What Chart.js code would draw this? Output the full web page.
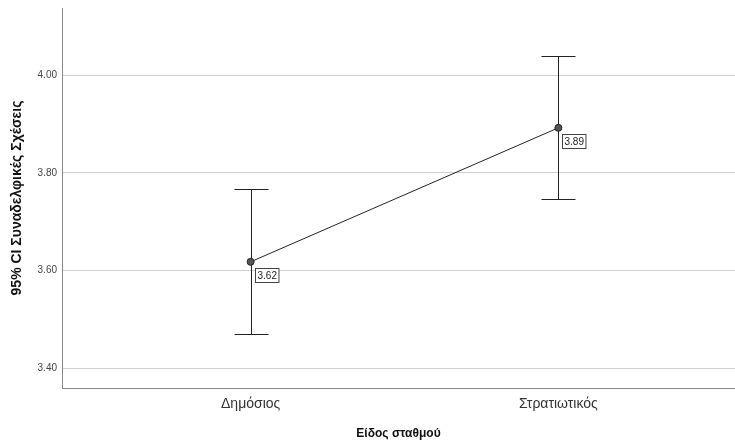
<!DOCTYPE html>
<html>
<head>
<meta charset="utf-8">
<script src="https://cdn.jsdelivr.net/npm/chart.js@4"></script>
<style>
  html, body { margin: 0; padding: 0; background: #fff; }
  #wrap { width: 735px; height: 441px; }
</style>
</head>
<body>
<div id="wrap"><canvas id="chartCI" width="735" height="441"></canvas></div>
<script>
const categories = ['Δημόσιος', 'Στρατιωτικός'];
const means = [3.618, 3.892];
const ciLower = [3.470, 3.746];
const ciUpper = [3.767, 4.039];
const yTicks = [3.40, 3.60, 3.80, 4.00];

const FONT = '"Liberation Sans", Arial, sans-serif';

// error bars + value boxes
const ciPlugin = {
  id: 'ciBars',
  beforeDatasetsDraw(chart) {
    const { ctx, scales: { x, y } } = chart;
    ctx.save();
    ctx.strokeStyle = '#222';
    ctx.lineWidth = 1;
    means.forEach((m, i) => {
      const px = Math.round(x.getPixelForValue(i)) + 0.5;
      const top = Math.round(y.getPixelForValue(ciUpper[i])) + 0.5;
      const bot = Math.round(y.getPixelForValue(ciLower[i])) + 0.5;
      ctx.beginPath();
      ctx.moveTo(px, top); ctx.lineTo(px, bot);
      ctx.moveTo(px - 17, top); ctx.lineTo(px + 17, top);
      ctx.moveTo(px - 17, bot); ctx.lineTo(px + 17, bot);
      ctx.stroke();
    });
    ctx.restore();
  },
  afterDatasetsDraw(chart) {
    const { ctx, scales: { x, y } } = chart;
    ctx.save();
    ctx.font = '10px ' + FONT;
    ctx.textBaseline = 'middle';
    ctx.textAlign = 'left';
    means.forEach((m, i) => {
      const px = x.getPixelForValue(i);
      const py = y.getPixelForValue(m);
      const txt = m.toFixed(2);
      const w = ctx.measureText(txt).width + 4;
      const bx = Math.round(px + 4) + 0.5;
      const by = Math.round(py + 6) + 0.5;
      ctx.fillStyle = '#fff';
      ctx.fillRect(bx, by, w, 14);
      ctx.strokeStyle = '#444';
      ctx.strokeRect(bx, by, w, 14);
      ctx.fillStyle = '#222';
      ctx.fillText(txt, bx + 2, by + 7.5);
    });
    ctx.restore();
  }
};

const ctx = document.getElementById('chartCI').getContext('2d');
const chart = new Chart(ctx, {
  type: 'line',
  data: {
    datasets: [{
      data: means.map((m, i) => ({ x: i, y: m })),
      borderColor: '#222',
      borderWidth: 1,
      pointRadius: 3.5,
      pointBackgroundColor: '#555',
      pointBorderColor: '#222',
      pointBorderWidth: 1,
      tension: 0
    }]
  },
  options: {
    responsive: false,
    animation: false,
    layout: { autoPadding: false, padding: { top: 8, right: 0, left: 0, bottom: 0 } },
    plugins: {
      legend: { display: false },
      tooltip: { enabled: false }
    },
    scales: {
      x: {
        type: 'linear',
        min: -0.613,
        max: 1.574,
        afterBuildTicks: (s) => { s.ticks = categories.map((c, i) => ({ value: i })); },
        afterFit: (s) => { s.height = 53; s.paddingLeft = 0; s.paddingRight = 0; },
        ticks: {
          callback: (v) => categories[v] ?? '',
          color: '#333',
          font: { family: FONT, size: 14 },
          padding: 8,
          maxRotation: 0
        },
        grid: { display: false, drawTicks: false },
        border: { display: true, color: '#888', width: 1 },
        title: {
          display: true,
          text: 'Είδος σταθμού',
          color: '#111',
          font: { family: FONT, size: 12, weight: 'bold' },
          padding: { top: 2, bottom: 0 }
        }
      },
      y: {
        min: 3.360,
        max: 4.137,
        afterBuildTicks: (s) => { s.ticks = yTicks.map(v => ({ value: v })); },
        afterFit: (s) => { s.width = 62; s.paddingTop = 0; s.paddingBottom = 0; },
        ticks: {
          callback: (v) => v.toFixed(2),
          color: '#444',
          font: { family: FONT, size: 10 },
          padding: 5
        },
        grid: { color: '#cfcfcf', lineWidth: 1, drawTicks: false },
        border: { display: true, color: '#888', width: 1 },
        title: {
          display: true,
          text: '95% CI Συναδελφικές Σχέσεις',
          color: '#111',
          font: { family: FONT, size: 14, weight: 'bold' },
          padding: { top: 9, bottom: 8 }
        }
      }
    }
  },
  plugins: [ciPlugin]
});
</script>
</body>
</html>
